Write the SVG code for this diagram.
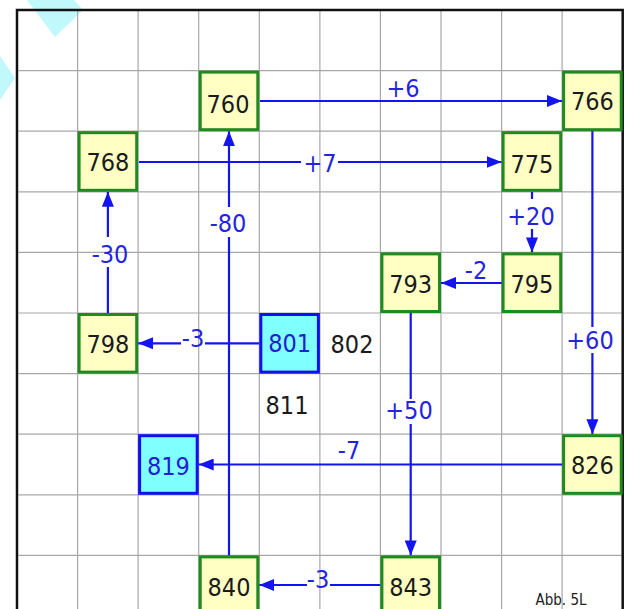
<svg xmlns="http://www.w3.org/2000/svg" width="626" height="609" viewBox="0 0 626 609">
<style>
.grid{stroke:#a8a8a8;stroke-width:1.2}
.frame{stroke:#111;stroke-width:2.5;fill:none}
.n rect{fill:#ffffc4;stroke:#1f8a1f;stroke-width:3}
.n text{font-family:"DejaVu Sans Condensed","Liberation Sans",sans-serif;font-size:25px;fill:#1a1a1a;text-anchor:middle}
.c rect{fill:#80ffff;stroke:#1010ee;stroke-width:3}
.c text{fill:#2020d0}
.e line{stroke:#1414ee;stroke-width:2.2}
.lbl{font-family:"DejaVu Sans Condensed","Liberation Sans",sans-serif;font-size:25px;fill:#2424e0;text-anchor:middle}
.free{font-family:"DejaVu Sans Condensed","Liberation Sans",sans-serif;font-size:25px;fill:#1a1a1a;text-anchor:middle}
</style>
<defs>
<marker id="ah" markerUnits="userSpaceOnUse" markerWidth="16" markerHeight="12" refX="15" refY="6" orient="auto">
<path d="M0,0 L15,6 L0,12 z" fill="#1414ee"/>
</marker>
</defs>
<rect x="0" y="0" width="626" height="609" fill="#fff"/>
<g id="deco" fill="#c0f8fc">
<polygon points="27,0 55,37 83,10 74,0"/>
<polygon points="0,56 15,78 0,100"/>
</g>
<g id="grid" class="grid">
<line x1="77.6" y1="11" x2="77.6" y2="609"/>
<line x1="138.1" y1="11" x2="138.1" y2="609"/>
<line x1="198.7" y1="11" x2="198.7" y2="609"/>
<line x1="259.3" y1="11" x2="259.3" y2="609"/>
<line x1="319.9" y1="11" x2="319.9" y2="609"/>
<line x1="380.4" y1="11" x2="380.4" y2="609"/>
<line x1="441" y1="11" x2="441" y2="609"/>
<line x1="501.6" y1="11" x2="501.6" y2="609"/>
<line x1="562.1" y1="11" x2="562.1" y2="609"/>
<line x1="18.5" y1="70.6" x2="621.5" y2="70.6"/>
<line x1="18.5" y1="131.2" x2="621.5" y2="131.2"/>
<line x1="18.5" y1="191.8" x2="621.5" y2="191.8"/>
<line x1="18.5" y1="252.4" x2="621.5" y2="252.4"/>
<line x1="18.5" y1="313" x2="621.5" y2="313"/>
<line x1="18.5" y1="373.6" x2="621.5" y2="373.6"/>
<line x1="18.5" y1="434.2" x2="621.5" y2="434.2"/>
<line x1="18.5" y1="494.8" x2="621.5" y2="494.8"/>
<line x1="18.5" y1="555.4" x2="621.5" y2="555.4"/>
</g>
<path class="frame" d="M17,612 V10 H622.7 V612"/>
<g id="connectors" class="e">
<line x1="260" y1="101" x2="562" y2="101" marker-end="url(#ah)"/>
<text class="lbl" x="403" y="97">+6</text>
<line x1="139" y1="162" x2="301" y2="162"/>
<line x1="338" y1="162" x2="501.6" y2="162" marker-end="url(#ah)"/>
<text class="lbl" x="320" y="172">+7</text>
<line x1="532" y1="192" x2="532" y2="199"/>
<line x1="532" y1="229" x2="532" y2="252.4" marker-end="url(#ah)"/>
<text class="lbl" x="531" y="225">+20</text>
<line x1="592.4" y1="131" x2="592.4" y2="327"/>
<line x1="592.4" y1="353" x2="592.4" y2="434.2" marker-end="url(#ah)"/>
<text class="lbl" x="590" y="349">+60</text>
<line x1="502" y1="283" x2="441" y2="283" marker-end="url(#ah)"/>
<text class="lbl" x="476" y="279">-2</text>
<line x1="410.7" y1="313" x2="410.7" y2="399"/>
<line x1="410.7" y1="424" x2="410.7" y2="555.4" marker-end="url(#ah)"/>
<text class="lbl" x="409" y="419">+50</text>
<line x1="259.3" y1="343.3" x2="205" y2="343.3"/>
<line x1="181" y1="343.3" x2="138.1" y2="343.3" marker-end="url(#ah)"/>
<text class="lbl" x="193" y="347">-3</text>
<line x1="107.9" y1="313" x2="107.9" y2="267"/>
<line x1="107.9" y1="237" x2="107.9" y2="191.8" marker-end="url(#ah)"/>
<text class="lbl" x="110" y="263">-30</text>
<line x1="229" y1="555.4" x2="229" y2="237"/>
<line x1="229" y1="207" x2="229" y2="131.2" marker-end="url(#ah)"/>
<text class="lbl" x="228" y="232">-80</text>
<line x1="562" y1="464.5" x2="198.7" y2="464.5" marker-end="url(#ah)"/>
<text class="lbl" x="349" y="459">-7</text>
<line x1="380.4" y1="585" x2="330" y2="585"/>
<line x1="307" y1="585" x2="259.3" y2="585" marker-end="url(#ah)"/>
<text class="lbl" x="318" y="588">-3</text>
</g>
<g id="n760" class="n"><rect x="200.2" y="72.1" width="57.6" height="57.6"/><text x="228" y="113">760</text></g>
<g id="n766" class="n"><rect x="563.6" y="72.1" width="57.6" height="57.6"/><text x="592.4" y="110">766</text></g>
<g id="n768" class="n"><rect x="79.1" y="132.7" width="57.6" height="57.6"/><text x="107.9" y="171">768</text></g>
<g id="n775" class="n"><rect x="503.1" y="132.7" width="57.6" height="57.6"/><text x="531.9" y="173">775</text></g>
<g id="n793" class="n"><rect x="381.9" y="253.9" width="57.6" height="57.6"/><text x="410.7" y="293">793</text></g>
<g id="n795" class="n"><rect x="503.1" y="253.9" width="57.6" height="57.6"/><text x="531.9" y="293">795</text></g>
<g id="n798" class="n"><rect x="79.1" y="314.5" width="57.6" height="57.6"/><text x="107.9" y="353">798</text></g>
<g id="n801" class="n c"><rect x="260.8" y="314.5" width="57.6" height="57.6"/><text x="289.6" y="352">801</text></g>
<g id="n819" class="n c"><rect x="139.6" y="435.7" width="57.6" height="57.6"/><text x="168.4" y="475">819</text></g>
<g id="n826" class="n"><rect x="563.6" y="435.7" width="57.6" height="57.6"/><text x="592.4" y="474">826</text></g>
<g id="n840" class="n"><rect x="200.2" y="556.9" width="57.6" height="57.6"/><text x="229" y="596">840</text></g>
<g id="n843" class="n"><rect x="381.9" y="556.9" width="57.6" height="57.6"/><text x="410.7" y="596">843</text></g>
<g id="t802"><text class="free" x="352" y="353">802</text></g>
<g id="t811"><text class="free" x="287" y="414">811</text></g>
<text x="561" y="605" font-family="'DejaVu Sans Condensed','Liberation Sans',sans-serif" font-size="15" fill="#222" text-anchor="middle">Abb. 5L</text>
</svg>
